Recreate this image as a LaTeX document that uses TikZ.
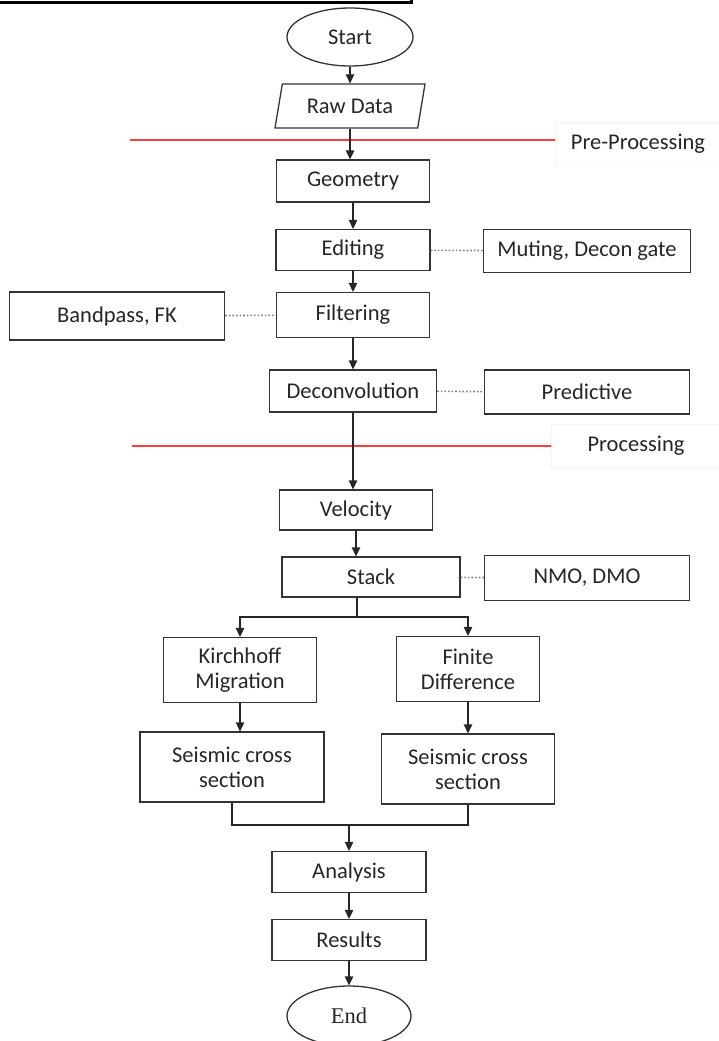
\documentclass[tikz,border=0pt]{standalone}
\usepackage{fontspec}
\setmainfont{Carlito}
\newfontfamily\endfont{Liberation Serif}
\usetikzlibrary{positioning, shapes.geometric, arrows.meta}

\begin{document}
\begin{tikzpicture}[x=1pt,y=1pt,>={Triangle[length=9pt,width=8.5pt]},on grid,
  font=\fontsize{22.5}{25}\selectfont, every node/.style={text=black!85}]
\tikzstyle{box}=[rectangle,draw=black!80,line width=1.3pt,minimum width=153pt,minimum height=42pt,inner sep=2pt,align=center]
\tikzstyle{term}=[ellipse,draw=black!80,line width=1.3pt,minimum width=126pt,minimum height=58pt,inner sep=0pt]
\tikzstyle{io}=[trapezium,trapezium left angle=71,trapezium right angle=109,trapezium stretches body,
  draw=black!80,line width=1.3pt,minimum width=150pt,minimum height=44pt]
\tikzstyle{stage}=[rectangle,draw=black!4,fill=white,minimum width=165pt,minimum height=44pt]
\tikzstyle{flow}=[->,line width=1.3pt,black!85]
\tikzstyle{link}=[dotted,line width=1.6pt,black!50]
\tikzstyle{split}=[red!75!white,line width=1.4pt]

\useasboundingbox (0,0) rectangle (719,-1041);
\draw[line width=2.6pt] (-10,10) rectangle (411.5,-2.5);

%-- Main column --
\node[term] (start) at (350,-37) {Start};
\node[io] (raw) [below=69pt of start] {Raw Data};
\node[box] (geom) at (353,-181) {Geometry};
\node[box, minimum width=154pt, minimum height=41pt] (edit) [below=69pt of geom] {Editing};
\node[box, minimum height=45pt] (filt) [below=65pt of edit] {Filtering};
\node[box, minimum width=167pt] (decon) [below=76pt of filt] {Deconvolution};
\node[box, minimum height=40pt] (velo) at (356,-510) {Velocity};
\node[box, minimum width=178pt, minimum height=40pt] (stack) at (371,-577) {Stack};

%-- Side notes --
\node[box, minimum width=207pt, minimum height=43pt] (mute) at (587,-251) {Muting, Decon gate};
\node[box, minimum width=215pt, minimum height=48pt] (band) at (117,-316) {Bandpass, FK};
\node[box, minimum width=205pt, minimum height=44pt] (pred) at (587,-392) {Predictive};
\node[box, minimum width=205pt, minimum height=45pt] (nmo) at (587,-578) {NMO, DMO};

%-- Two branches --
\node[box, minimum height=65pt] (kirch) at (240,-670) {Kirchhoff\\Migration};
\node[box, minimum width=143pt, minimum height=65pt] (finite) at (468,-669) {Finite\\Difference};
\node[box, minimum width=184pt, minimum height=70pt] (sec1) at (232,-767) {Seismic cross\\section};
\node[box, minimum width=173pt, minimum height=70pt] (sec2) at (468,-769) {Seismic cross\\section};

%-- End part --
\node[box, minimum width=154pt, minimum height=41pt] (ana) at (349,-872) {Analysis};
\node[box, minimum width=154pt, minimum height=41pt] (res) [below=68pt of ana] {Results};
\node[term, minimum width=124pt, minimum height=60pt] (end) [below=76pt of res] {\endfont End};

%-- Stages --
\node[stage] (pre) at (638,-144) {Pre-Processing};
\node[stage, minimum width=169pt] (proc) at (636,-446) {Processing};
\draw[split] (130,-140) -- (pre.west |- 0,-140);
\draw[split] (132,-446) -- (proc.west);

%-- Transitions --
\draw[flow] (start) -- (raw);
\draw[flow] (raw.south) -- (raw.south |- geom.north);
\draw[flow] (geom) -- (edit);
\draw[flow] (edit) -- (filt);
\draw[flow] (filt) -- (filt |- decon.north);
\draw[flow] (decon) -- (decon |- velo.north);
\draw[flow] (velo) -- (velo |- stack.north);

\draw[link] (edit) -- (mute);
\draw[link] (band) -- (filt);
\draw[link] (decon) -- (pred);
\draw[link] (stack) -- (nmo);

% fork after stack
\coordinate (fork) at (357,-617);
\draw[line width=1.3pt,black!85] (stack.south -| fork) -- (fork);
\draw[flow] (fork) -| (kirch.north);
\draw[flow] (fork) -| (finite.north);
\draw[flow] (kirch) -- (kirch |- sec1.north);
\draw[flow] (finite) -- (sec2);

% join before analysis
\coordinate (join) at (349,-825);
\draw[line width=1.3pt,black!85] (sec1) |- (join);
\draw[line width=1.3pt,black!85] (sec2) |- (join);
\draw[flow] (join) -- (ana);
\draw[flow] (ana) -- (res);
\draw[flow] (res) -- (end);

\end{tikzpicture}
\end{document}
